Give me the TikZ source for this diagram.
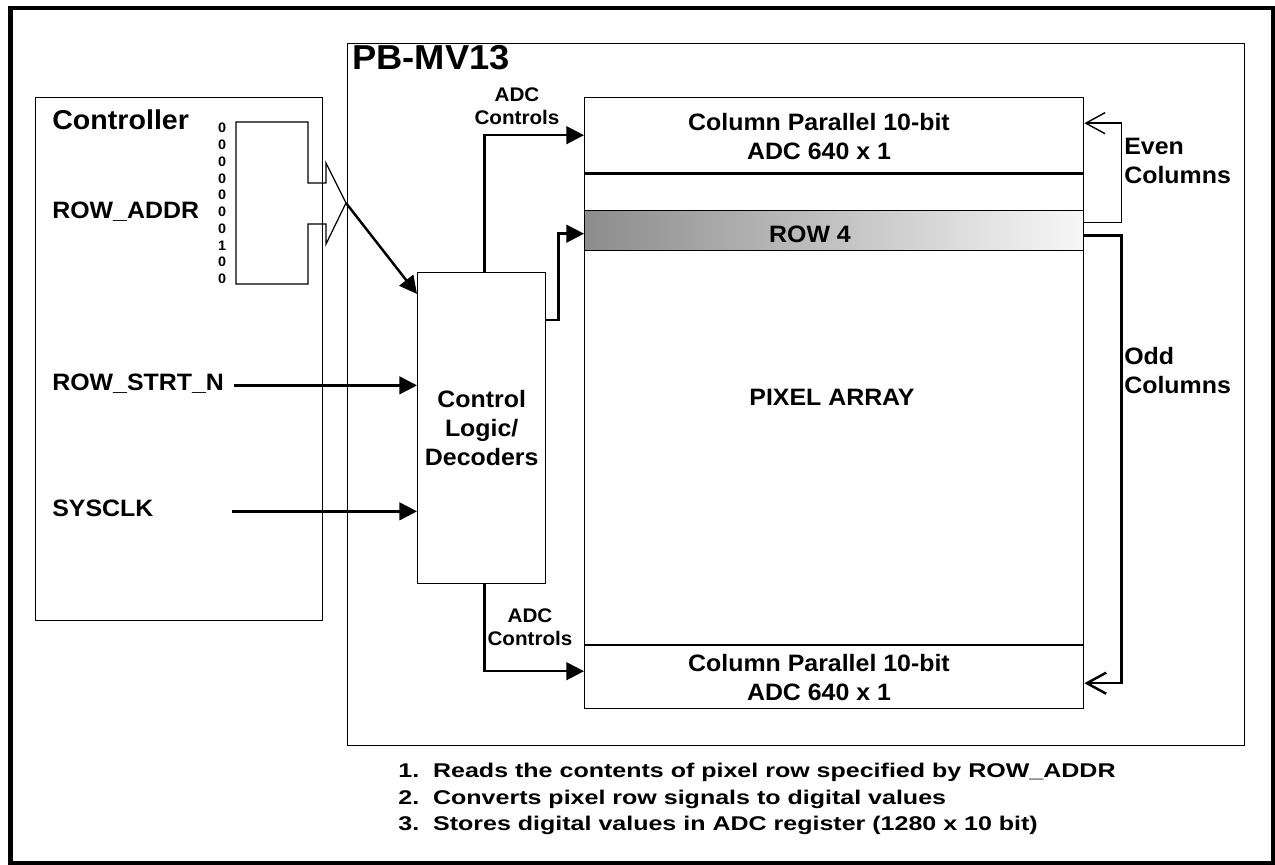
\documentclass[tikz,border=0pt]{standalone}
\usepackage{fontspec}
\setmainfont{Liberation Sans}[FakeStretch=1.05]
\usepackage{graphicx}
\usetikzlibrary{arrows.meta,calc}
\newcommand{\fsz}[2]{\fontsize{#1pt}{#2pt}\selectfont\bfseries}

\begin{document}
\begin{tikzpicture}[x=0.02cm, y=-0.02cm,
    box/.style={draw, line width=0.8pt, inner sep=0pt, anchor=north west},
    lbl/.style={inner sep=0pt, align=center, font=\fsz{13.5}{16.5}},
    sig/.style={line width=1.4pt, -{Triangle[length=10pt,width=10pt]}},
    col/.style={-{Straight Barb[length=11pt,width=12pt]}},
    thk/.style={line width=1.4pt}]
    \useasboundingbox (0,0) rectangle (1275,865);

    % Frame
    \draw[line width=2.8pt] (10.5,8) rectangle (1273,863);

    % Controller
    \node[box, minimum width=5.74cm, minimum height=10.46cm] (ctrl) at (35,97) {};
    \node[inner sep=0pt, anchor=base west, font=\fsz{15.5}{18}] (ctrltitle) at (52,130) {Controller};
    \node[lbl, anchor=base west] (rowaddr) at (52,218) {ROW\_ADDR};
    \node[lbl, anchor=base west] (rowstrt) at (52,390) {ROW\_STRT\_N};
    \node[lbl, anchor=base west] (sysclk) at (52,516) {SYSCLK};
    \node[inner sep=0pt, align=center, font=\fsz{7.8}{9.52}] (bits) at (222,203.5)
        {0\\0\\0\\0\\0\\0\\0\\1\\0\\0};

    % Register with bus arrow
    \coordinate (regtip) at (346,203);
    \draw[line width=0.7pt] (236,122) -- (308,122) -- (308,183) -- (326,183) -- (326,163)
        -- (regtip) -- (326,244) -- (326,224) -- (308,224) -- (308,284) -- (236,284) -- cycle;

    % PB-MV13
    \node[box, minimum width=17.94cm, minimum height=14.04cm] (chip) at (347,43) {};
    \node[inner sep=0pt, anchor=base west, font=\fsz{19.7}{22}] (chiptitle) at (352,70) {PB-MV13};

    % Control logic
    \node[box, lbl, minimum width=2.56cm, minimum height=6.22cm] (logic) at (417,272)
        {Control\\Logic/\\Decoders};

    % Sensor
    \node[box, minimum width=9.98cm, minimum height=1.5cm] (adctop) at (584,97) {};
    \node[box, minimum width=9.98cm, minimum height=9.46cm] (pix) at (584,172) {};
    \node[box, minimum width=9.98cm, minimum height=1.26cm] (adcbot) at (584,645) {};
    \node[box, minimum width=9.98cm, minimum height=0.8cm,
        left color=black!45, right color=black!3] (row4) at (584,210) {};
    \draw[thk] (adctop.south west) -- (adctop.south east);
    \draw[thk] (adcbot.north west) -- (adcbot.north east);

    \node[lbl, anchor=north] (adctoptxt) at (819,113) {Column Parallel 10-bit\\ADC 640 x 1};
    \node[lbl, anchor=north] (adcbottxt) at (819,654) {Column Parallel 10-bit\\ADC 640 x 1};
    \node[lbl] (row4txt) at (810,234) {ROW 4};
    \node[lbl] (pixtxt) at (832,397) {PIXEL ARRAY};

    % Controls
    \coordinate (busx) at (232,0);
    \draw[sig] (regtip) -- ($(logic.north west)+(0,22)$);
    \draw[sig] ([xshift=0.2cm]rowstrt.mid east) -- (rowstrt.mid east -| logic.west);
    \draw[sig] (sysclk.mid east -| busx) -- (sysclk.mid east -| logic.west);
    \draw[sig] ($(logic.north)+(3,0)$) |- (adctop.west);
    \draw[sig] ($(logic.south)+(3,0)$) |- ($(adcbot.west)+(0,-6)$);
    \draw[sig] ($(logic.north east)+(0,48)$) -- ++(12,0) |- ($(row4.west)+(0,3)$);
    \node[inner sep=0pt, align=center, font=\fsz{11.2}{13.6}, anchor=north] (ctltop) at (517,87) {ADC\\Controls};
    \node[inner sep=0pt, align=center, font=\fsz{11.2}{13.6}, anchor=north] (ctlbot) at (530,608) {ADC\\Controls};

    % Column readout
    \draw[col, line width=0.8pt] ($(row4.east)+(0,-8)$) -- ++(37,0) |- ($(adctop.east)+(0,-12)$);
    \draw[col, line width=1.4pt] ($(row4.east)+(0,5)$) -- ++(37,0) |- ($(adcbot.east)+(0,6)$);
    \node[lbl, align=left, anchor=north west] (even) at (1124,138) {Even\\Columns};
    \node[lbl, align=left, anchor=north west] (odd) at (1124,347) {Odd\\Columns};

    % Notes
    \node[inner sep=0pt, anchor=north west, align=left, font=\fsz{11.3}{15}] (notes) at (398,763)
        {\scalebox{1.2}[1]{1.~~Reads the contents of pixel row specified by ROW\_ADDR}\\
         \scalebox{1.2}[1]{2.~~Converts pixel row signals to digital values}\\
         \scalebox{1.2}[1]{3.~~Stores digital values in ADC register (1280 x 10 bit)}};
\end{tikzpicture}
\end{document}
